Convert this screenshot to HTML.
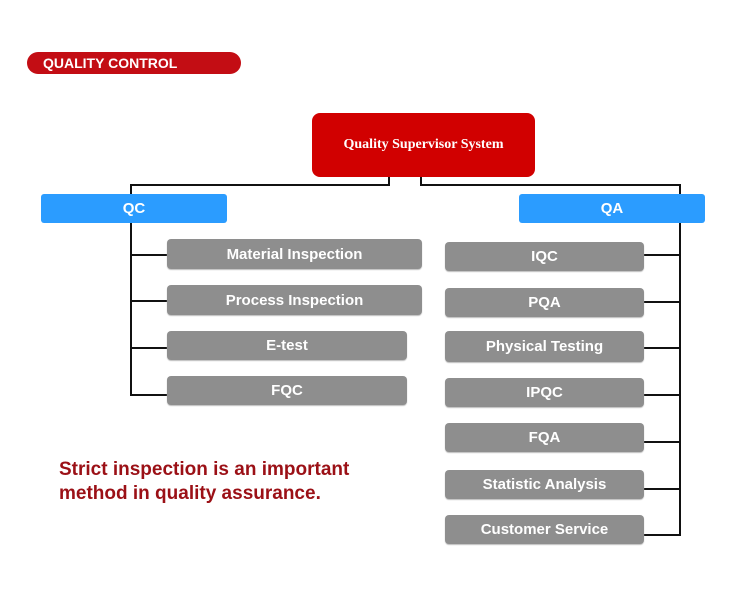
<!DOCTYPE html>
<html><head><style>
body{margin:0;width:750px;height:589px;background:#fff;position:relative;overflow:hidden;font-family:"Liberation Sans",Arial,sans-serif}
.a{position:absolute;box-sizing:border-box}
.g{background:#8e8e8e;color:#fff;font-weight:bold;font-size:15px;border-radius:4px;display:flex;align-items:center;justify-content:center;box-shadow:0 1px 1px #bbb}
.b{background:#2b9cff;color:#fff;font-weight:bold;font-size:15px;border-radius:3px;display:flex;align-items:center;justify-content:center}
.l{position:absolute;background:#111}
</style></head><body>
<div class="a" style="left:27px;top:52px;width:214px;height:22px;background:#c30d14;border-radius:11px;color:#fff;font-size:14px;font-weight:bold;padding-left:16px;line-height:22px;letter-spacing:0">QUALITY CONTROL</div>
<div class="a" style="left:312px;top:113px;width:223px;height:64px;background:#d10000;border-radius:8px;color:#fff;font-family:'Liberation Serif',serif;font-weight:bold;font-size:14px;display:flex;align-items:center;justify-content:center">Quality Supervisor System</div>
<div class="l" style="left:388px;top:177px;width:2px;height:9px"></div>
<div class="l" style="left:130px;top:184px;width:260px;height:2px"></div>
<div class="l" style="left:130px;top:184px;width:2px;height:11px"></div>
<div class="l" style="left:420px;top:177px;width:2px;height:9px"></div>
<div class="l" style="left:420px;top:184px;width:261px;height:2px"></div>
<div class="l" style="left:679px;top:184px;width:2px;height:11px"></div>
<div class="a b" style="left:41px;top:194px;width:186px;height:29px">QC</div>
<div class="a b" style="left:519px;top:194px;width:186px;height:29px">QA</div>
<div class="l" style="left:130px;top:223px;width:2px;height:173px"></div>
<div class="l" style="left:130px;top:254px;width:37px;height:2px"></div>
<div class="l" style="left:130px;top:300px;width:37px;height:2px"></div>
<div class="l" style="left:130px;top:347px;width:37px;height:2px"></div>
<div class="l" style="left:130px;top:394px;width:37px;height:2px"></div>
<div class="l" style="left:679px;top:223px;width:2px;height:313px"></div>
<div class="l" style="left:644px;top:254px;width:37px;height:2px"></div>
<div class="l" style="left:644px;top:301px;width:37px;height:2px"></div>
<div class="l" style="left:644px;top:347px;width:37px;height:2px"></div>
<div class="l" style="left:644px;top:394px;width:37px;height:2px"></div>
<div class="l" style="left:644px;top:441px;width:37px;height:2px"></div>
<div class="l" style="left:644px;top:488px;width:37px;height:2px"></div>
<div class="l" style="left:644px;top:534px;width:37px;height:2px"></div>
<div class="a g" style="left:167px;top:239px;width:255px;height:30px">Material Inspection</div>
<div class="a g" style="left:167px;top:285px;width:255px;height:30px">Process Inspection</div>
<div class="a g" style="left:167px;top:331px;width:240px;height:29px">E-test</div>
<div class="a g" style="left:167px;top:376px;width:240px;height:29px">FQC</div>
<div class="a g" style="left:445px;top:242px;width:199px;height:29px">IQC</div>
<div class="a g" style="left:445px;top:288px;width:199px;height:29px">PQA</div>
<div class="a g" style="left:445px;top:331px;width:199px;height:31px">Physical Testing</div>
<div class="a g" style="left:445px;top:378px;width:199px;height:29px">IPQC</div>
<div class="a g" style="left:445px;top:423px;width:199px;height:29px">FQA</div>
<div class="a g" style="left:445px;top:470px;width:199px;height:29px">Statistic Analysis</div>
<div class="a g" style="left:445px;top:515px;width:199px;height:29px">Customer Service</div>
<div class="a" style="left:59px;top:458px;color:#9b1016;font-weight:bold;font-size:19px;line-height:24px">Strict inspection is an important<br>method in quality assurance.</div>
</body></html>
